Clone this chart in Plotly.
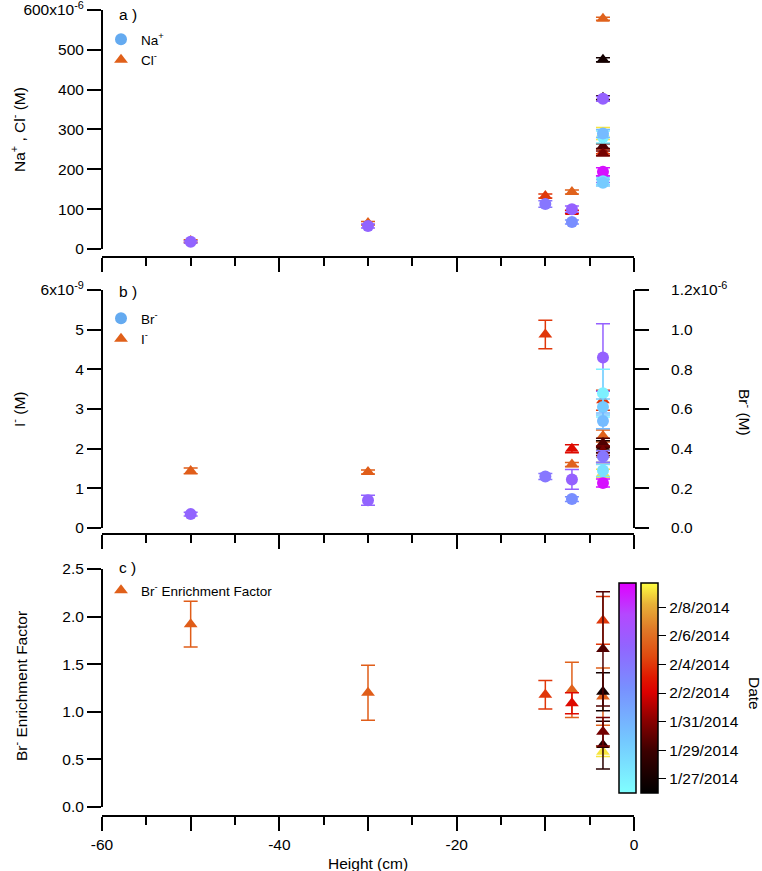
import plotly.graph_objects as go

# ---------------- data ----------------
# sample heights (cm)
height = [-50, -30, -10, -7, -7, -3.5, -3.5, -3.5, -3.5, -3.5, -3.5, -3.5]
# sampling date as day number (January day, February = 31 + day)
date = [36.3, 36.3, 35.0, 36.5, 33.5, 35.0, 36.5, 40.2, 27.0, 28.0, 29.5, 30.5]

# panel a (x10^-6 M)
na = [18, 58, 113, 100, 68, 175, 377, 194, 281, 170, 166, 290]
na_err = [3, 5, 8, 8, 5, 8, 6, 10, 15, 8, 8, 10]
cl = [20, 65, 133, 143, 93, 245, 578, 290, 475, 380, 258, 240]
cl_err = [3, 4, 5, 5, 4, 6, 4, 15, 5, 5, 6, 6]

# panel b  (Br in x10^-6 M, I in x10^-9 M)
br = [0.07, 0.14, 0.26, 0.245, 0.146, 0.36, 0.86, 0.227, 0.68, 0.29, 0.61, 0.54]
br_err = [0.01, 0.025, 0.015, 0.05, 0.012, 0.03, 0.17, 0.02, 0.12, 0.03, 0.04, 0.04]
iod = [1.44, 1.41, 4.88, 1.60, 2.00, 3.22, 2.32, 1.38, 2.05, 1.85, 2.14, 1.95]
iod_err = [0.07, 0.05, 0.36, 0.05, 0.10, 0.25, 0.15, 0.10, 0.15, 0.20, 0.12, 0.12]

# panel c
ef = [1.92, 1.20, 1.18, 1.23, 1.09, 1.96, 1.16, 0.58, 1.21, 0.65, 1.66, 0.79]
ef_err = [0.24, 0.29, 0.15, 0.29, 0.11, 0.25, 0.30, 0.05, 0.20, 0.25, 0.60, 0.15]

# date colour bar ticks
date_ticks = [27, 29, 31, 33, 35, 37, 39]
date_labels = ["1/27/2014", "1/29/2014", "1/31/2014", "2/2/2014",
               "2/4/2014", "2/6/2014", "2/8/2014"]
DMIN, DMAX = 26.0, 40.7

# axis tick labels
a_ticks = [0, 100, 200, 300, 400, 500, 600]
a_labels = ["0", "100", "200", "300", "400", "500", "600x10<sup>-6</sup>"]
bl_ticks = [0, 1, 2, 3, 4, 5, 6]
bl_labels = ["0", "1", "2", "3", "4", "5", "6x10<sup>-9</sup>"]
br_ticks = [0, 0.2, 0.4, 0.6, 0.8, 1.0, 1.2]
br_labels = ["0.0", "0.2", "0.4", "0.6", "0.8", "1.0", "1.2x10<sup>-6</sup>"]
c_ticks = [0, 0.5, 1.0, 1.5, 2.0, 2.5]
c_labels = ["0.0", "0.5", "1.0", "1.5", "2.0", "2.5"]
x_ticks = [-60, -50, -40, -30, -20, -10, 0]
x_labels = ["-60", "", "-40", "", "-20", "", "0"]

# ---------------- styles ----------------
HOT = [[0.0, "#000000"], [0.2, "#3c0000"], [0.35, "#8c0000"], [0.48, "#dc0000"],
       [0.55, "#e01800"], [0.65, "#e04a10"], [0.78, "#e07a28"], [0.9, "#e8b238"],
       [1.0, "#ffff40"]]
COOL = [[0.0, "#80ffff"], [0.25, "#74c8ff"], [0.5, "#7890ff"], [0.7, "#9264ff"],
        [0.85, "#b448ff"], [1.0, "#e000ff"]]

FONT = "Liberation Sans, Arial, sans-serif"
FS = 15.5


def lerp_color(scale, v):
    t = (v - DMIN) / (DMAX - DMIN)
    t = min(max(t, 0.0), 1.0)
    for (t0, c0), (t1, c1) in zip(scale[:-1], scale[1:]):
        if t0 <= t <= t1:
            f = 0 if t1 == t0 else (t - t0) / (t1 - t0)
            a = [int(c0[i:i + 2], 16) for i in (1, 3, 5)]
            b = [int(c1[i:i + 2], 16) for i in (1, 3, 5)]
            r = [round(a[k] + (b[k] - a[k]) * f) for k in range(3)]
            return "rgb(%d,%d,%d)" % tuple(r)
    return scale[-1][1]


fig = go.Figure()


def add_series(vals, errs, scale, symbol, xa, ya):
    for h, d, v, e in zip(height, date, vals, errs):
        c = lerp_color(scale, d)
        fig.add_trace(go.Scatter(
            x=[h], y=[v], mode="markers", xaxis=xa, yaxis=ya, showlegend=False,
            hoverinfo="skip",
            marker=dict(symbol=symbol, size=12, color=c, line=dict(width=0)),
            error_y=dict(type="data", array=[e], color=c, thickness=1.5, width=7)))


# panel a : Cl- triangles then Na+ circles
add_series(cl, cl_err, HOT, "triangle-up", "x", "y")
add_series(na, na_err, COOL, "circle", "x", "y")
# panel b : I- triangles (left) then Br- circles (right)
add_series(iod, iod_err, HOT, "triangle-up", "x2", "y2")
add_series(br, br_err, COOL, "circle", "x2", "y4")
# panel c : enrichment factor
add_series(ef, ef_err, HOT, "triangle-up", "x3", "y3")

# legend entries
LB, LO = "#64aaf0", "#e0601a"
fig.add_trace(go.Scatter(x=[None], y=[None], mode="markers", name="Na<sup>+</sup>",
                         marker=dict(symbol="circle", size=12, color=LB),
                         xaxis="x", yaxis="y", legend="legend"))
fig.add_trace(go.Scatter(x=[None], y=[None], mode="markers", name="Cl<sup>-</sup>",
                         marker=dict(symbol="triangle-up", size=12, color=LO),
                         xaxis="x", yaxis="y", legend="legend"))
fig.add_trace(go.Scatter(x=[None], y=[None], mode="markers", name="Br<sup>-</sup>",
                         marker=dict(symbol="circle", size=12, color=LB),
                         xaxis="x2", yaxis="y2", legend="legend2"))
fig.add_trace(go.Scatter(x=[None], y=[None], mode="markers", name="I<sup>-</sup>",
                         marker=dict(symbol="triangle-up", size=12, color=LO),
                         xaxis="x2", yaxis="y2", legend="legend2"))
fig.add_trace(go.Scatter(x=[None], y=[None], mode="markers",
                         name="Br<sup>-</sup> Enrichment Factor",
                         marker=dict(symbol="triangle-up", size=12, color=LO),
                         xaxis="x3", yaxis="y3", legend="legend3"))

# colour bars
W, H = 762, 871
cb_len = 210 / H
cb_y = 1 - 688 / H
fig.add_trace(go.Scatter(
    x=[None], y=[None], mode="markers", xaxis="x3", yaxis="y3", showlegend=False,
    marker=dict(color=[30], colorscale=COOL, cmin=DMIN, cmax=DMAX, showscale=True,
                colorbar=dict(x=619 / W, xanchor="left", y=cb_y, yanchor="middle",
                              len=cb_len, lenmode="fraction", thickness=17,
                              xpad=0, ypad=0, outlinewidth=1.5, outlinecolor="black",
                              showticklabels=False, ticks=""))))
fig.add_trace(go.Scatter(
    x=[None], y=[None], mode="markers", xaxis="x3", yaxis="y3", showlegend=False,
    marker=dict(color=[30], colorscale=HOT, cmin=DMIN, cmax=DMAX, showscale=True,
                colorbar=dict(x=641 / W, xanchor="left", y=cb_y, yanchor="middle",
                              len=cb_len, lenmode="fraction", thickness=17,
                              xpad=0, ypad=0, outlinewidth=1.5, outlinecolor="black",
                              tickvals=date_ticks, ticktext=date_labels,
                              ticks="outside", ticklen=8, tickwidth=1,
                              tickcolor="black",
                              tickfont=dict(family=FONT, size=FS, color="black")))))

# ---------------- layout ----------------
xdom = [102 / W, 634 / W]


def ydom(top_px, bot_px):
    return [1 - bot_px / H, 1 - top_px / H]


xcommon = dict(range=[-60, 0], domain=xdom, showline=True, linewidth=2,
               linecolor="black", ticks="outside", ticklen=14, tickwidth=2,
               tickcolor="black", tickvals=x_ticks, ticktext=x_labels,
               showgrid=False, zeroline=False, automargin=False,
               ticklabeloverflow="allow",
               minor=dict(dtick=5, ticklen=8, tickwidth=2, tickcolor="black",
                          ticks="outside", showgrid=False),
               tickfont=dict(family=FONT, size=FS, color="black"))
ycommon = dict(showline=False, ticks="outside", ticklen=14, tickwidth=2,
               tickcolor="black", showgrid=False, zeroline=False, automargin=False,
               ticklabeloverflow="allow",
               tickfont=dict(family=FONT, size=FS, color="black"))

LEGX = 101 / W
legfont = dict(family=FONT, size=13.5, color="black")
fig.update_layout(
    width=W, height=H, margin=dict(l=0, r=0, t=0, b=0, autoexpand=False),
    paper_bgcolor="white", plot_bgcolor="white",
    font=dict(family=FONT, size=FS, color="black"),
    xaxis=dict(**xcommon, anchor="y", showticklabels=False),
    xaxis2=dict(**xcommon, anchor="y2", showticklabels=False),
    xaxis3=dict(**xcommon, anchor="y3", showticklabels=True),
    yaxis=dict(**ycommon, domain=ydom(10, 256), range=[-17.6, 600],
               tickvals=a_ticks, ticktext=a_labels, anchor="x"),
    yaxis2=dict(**ycommon, domain=ydom(290, 533), range=[-0.126, 6],
                tickvals=bl_ticks, ticktext=bl_labels, anchor="x2"),
    yaxis4=dict(**ycommon, range=[-0.0252, 1.2], overlaying="y2", side="right",
                anchor="x2", tickvals=br_ticks, ticktext=br_labels,
                ticklabelstandoff=19),
    yaxis3=dict(**ycommon, domain=ydom(569, 815), range=[-0.084, 2.5],
                tickvals=c_ticks, ticktext=c_labels, anchor="x3"),
    legend=dict(x=LEGX, y=1 - 24 / H, xanchor="left", yanchor="top",
                bgcolor="rgba(0,0,0,0)", font=legfont, itemwidth=30),
    legend2=dict(x=LEGX, y=1 - 303 / H, xanchor="left", yanchor="top",
                 bgcolor="rgba(0,0,0,0)", font=legfont, itemwidth=30),
    legend3=dict(x=LEGX, y=1 - 575 / H, xanchor="left", yanchor="top",
                 bgcolor="rgba(0,0,0,0)", font=legfont, itemwidth=30),
)

# axis lines (offset Igor-style axes)
line = dict(color="black", width=2)
fig.add_shape(type="line", xref="x domain", yref="y", x0=0, x1=0, y0=0, y1=600, line=line)
fig.add_shape(type="line", xref="x2 domain", yref="y2", x0=0, x1=0, y0=0, y1=6, line=line)
fig.add_shape(type="line", xref="x2 domain", yref="y2", x0=1, x1=1, y0=0, y1=6, line=line)
fig.add_shape(type="line", xref="x3 domain", yref="y3", x0=0, x1=0, y0=0, y1=2.5, line=line)


def note(text, xp, yp, angle=0, xanchor="center", size=FS):
    fig.add_annotation(text=text, x=xp / W, y=1 - yp / H, xref="paper", yref="paper",
                       textangle=angle, showarrow=False, xanchor=xanchor,
                       yanchor="middle", font=dict(family=FONT, size=size, color="black"))


# panel letters
note("a )", 117, 14, xanchor="left")
note("b )", 117, 292, xanchor="left")
note("c )", 117, 567, xanchor="left")
# axis titles
note("Na<sup>+</sup> , Cl<sup>-</sup> (M)", 18, 130, -90)
note("I<sup>-</sup> (M)", 18, 410, -90)
note("Br<sup>-</sup> (M)", 745, 412, 90)
note("Br<sup>-</sup> Enrichment Factor", 20, 686, -90)
note("Date", 755, 693, 90)
note("Height (cm)", 368, 863)

fig.write_html("out.html", config={"displayModeBar": False},
               post_script="document.body.style.margin='0px';")
